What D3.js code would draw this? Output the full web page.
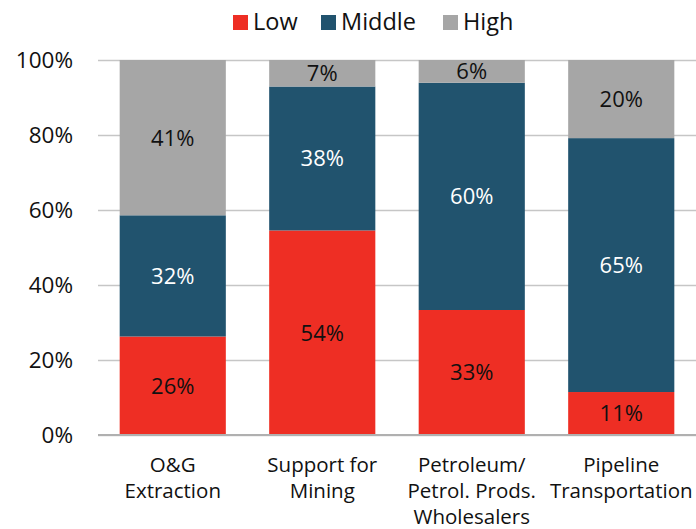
<!DOCTYPE html>
<html><head><meta charset="utf-8">
<script src="https://cdn.jsdelivr.net/npm/d3@7"></script>
<style>body{margin:0;background:#fff}svg{display:block}</style>
</head><body>
<svg id="c" width="696" height="529"></svg>
<script>
const categories = [["O&G","Extraction"],["Support for","Mining"],["Petroleum/","Petrol. Prods.","Wholesalers"],["Pipeline","Transportation"]];
const low = [26, 54, 33, 11];
const middle = [32, 38, 60, 65];
const high = [41, 7, 6, 20];
const seriesNames = ["Low","Middle","High"];
const colors = ["#EE2E24","#21536E","#A6A6A6"];
const labelColors = ["#111","#fff","#111"];
const yTicks = [0,0.2,0.4,0.6,0.8,1];

const font = "'Open Sans', sans-serif";
const svg = d3.select("#c");
const W = 696, H = 529;
const m = {l:98, r:0, t:60, b:94};
const rows = categories.map((c,i)=>({i, Low:low[i], Middle:middle[i], High:high[i]}));
const stack = d3.stack().keys(seriesNames).offset(d3.stackOffsetExpand)(rows);

const x = d3.scaleBand().domain(d3.range(categories.length)).range([m.l, W-m.r]).paddingInner(0.29).paddingOuter(0.145);
const y = d3.scaleLinear().domain([0,1]).range([H-m.b, m.t]);

// grid
const yAxis = d3.axisLeft(y).tickValues(yTicks).tickFormat(d3.format(".0%")).tickSize(-(W-m.l-m.r)).tickPadding(25);
const ga = svg.append("g").attr("transform",`translate(${m.l},0)`).call(yAxis);
ga.select(".domain").remove();
ga.selectAll(".tick line").attr("stroke","#C6C6C6").attr("stroke-width",1.3);
ga.selectAll(".tick text").attr("font-family",font).attr("font-size",22.5).attr("fill","#111");

// bars
const g = svg.append("g");
stack.forEach((s,k)=>{
  g.selectAll(null).data(s).enter().append("rect")
    .attr("x",d=>x(d.data.i)).attr("width",x.bandwidth())
    .attr("y",d=>y(d[1])).attr("height",d=>y(d[0])-y(d[1]))
    .attr("fill",colors[k]);
  const vals = [low,middle,high][k];
  g.selectAll(null).data(s).enter().append("text")
    .attr("x",d=>x(d.data.i)+x.bandwidth()/2)
    .attr("y",d=>(y(d[0])+y(d[1]))/2)
    .attr("dy","0.36em").attr("text-anchor","middle")
    .attr("font-family",font).attr("font-size",22).attr("fill",labelColors[k])
    .text((d,i)=>vals[d.data.i]+"%");
});

// baseline
svg.append("line").attr("x1",m.l).attr("x2",W-m.r).attr("y1",y(0)).attr("y2",y(0))
  .attr("stroke","#B0B0B0").attr("stroke-width",2.2);

// x labels
const xl = svg.append("g");
categories.forEach((lines,i)=>{
  const t = xl.append("text").attr("x",x(i)+x.bandwidth()/2).attr("y",y(0)+37)
    .attr("text-anchor","middle").attr("font-family",font).attr("font-size",20.5).attr("fill","#111");
  lines.forEach((ln,j)=>t.append("tspan").attr("x",x(i)+x.bandwidth()/2).attr("dy",j?26:0).text(ln));
});

// legend
const legX = [233, 321, 443];
const lg = svg.append("g");
seriesNames.forEach((n,k)=>{
  lg.append("rect").attr("x",legX[k]).attr("y",15).attr("width",15).attr("height",15).attr("fill",colors[k]);
  lg.append("text").attr("x",legX[k]+20).attr("y",22).attr("dy","0.36em")
    .attr("font-family",font).attr("font-size",23.5).attr("fill","#111").text(n);
});
</script>
</body></html>
